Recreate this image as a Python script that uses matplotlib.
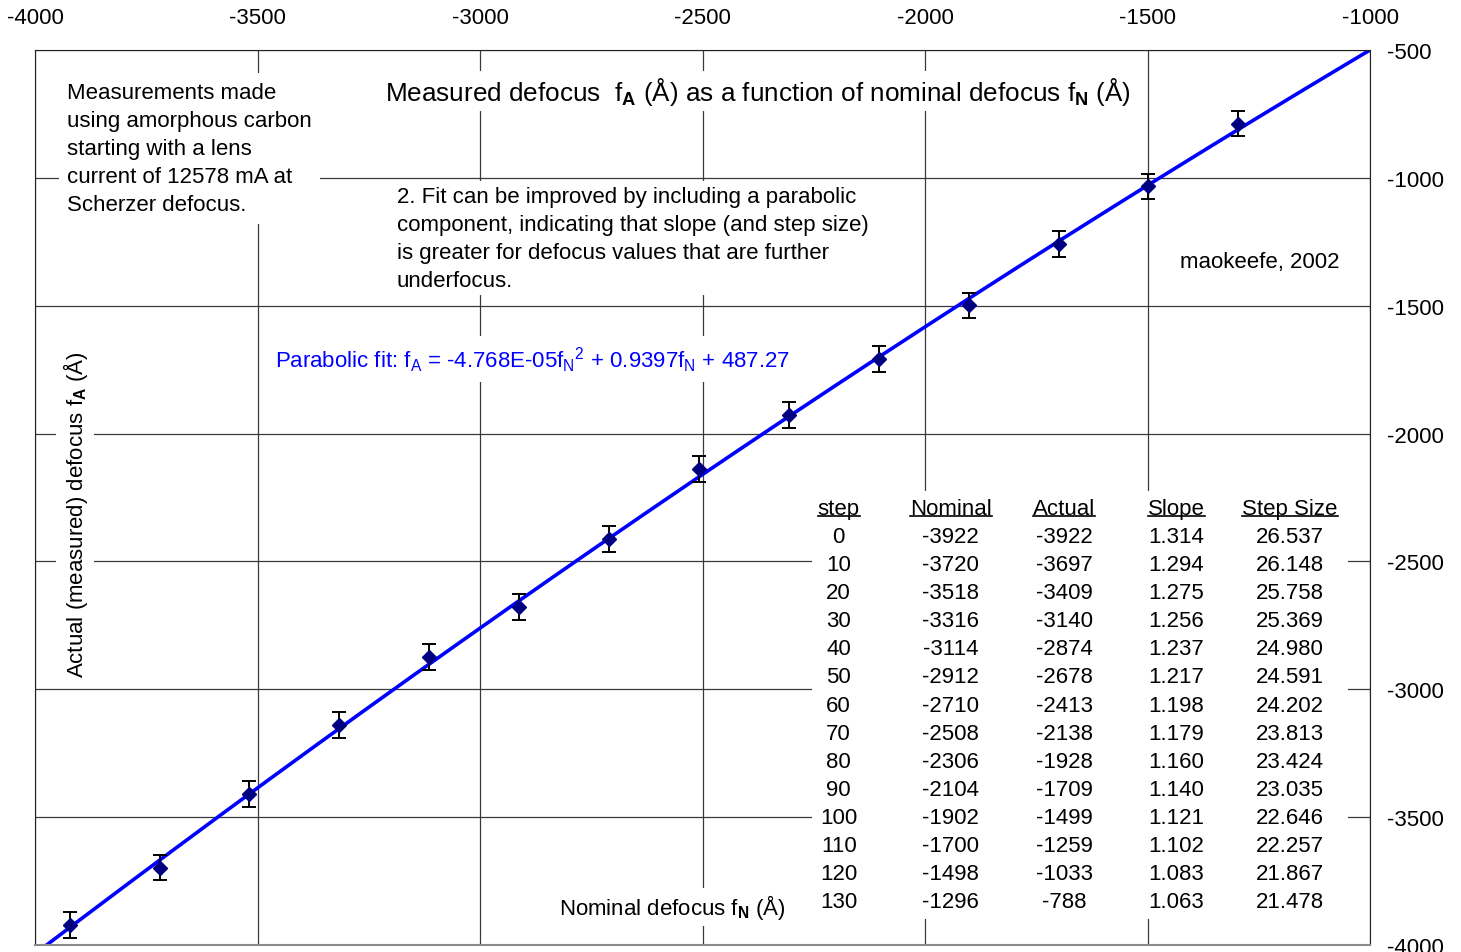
#Imports
import numpy as np
import matplotlib
matplotlib.use("Agg")
import matplotlib.pyplot as plt
from matplotlib.patches import Rectangle
from matplotlib.lines import Line2D

plt.rcParams['font.family'] = ['Liberation Sans', 'DejaVu Sans']
plt.rcParams['mathtext.fontset'] = 'custom'
plt.rcParams['mathtext.rm'] = 'Liberation Sans'
plt.rcParams['mathtext.it'] = 'Liberation Sans:italic'
plt.rcParams['mathtext.bf'] = 'Liberation Sans:bold'
plt.rcParams['axes.unicode_minus'] = False

#Data
steps = [0, 10, 20, 30, 40, 50, 60, 70, 80, 90, 100, 110, 120, 130]
nominal = [-3922, -3720, -3518, -3316, -3114, -2912, -2710, -2508, -2306, -2104, -1902, -1700, -1498, -1296]
actual = [-3922, -3697, -3409, -3140, -2874, -2678, -2413, -2138, -1928, -1709, -1499, -1259, -1033, -788]
slope = ["1.314", "1.294", "1.275", "1.256", "1.237", "1.217", "1.198", "1.179", "1.160", "1.140", "1.121", "1.102", "1.083", "1.063"]
step_size = ["26.537", "26.148", "25.758", "25.369", "24.980", "24.591", "24.202", "23.813", "23.424", "23.035", "22.646", "22.257", "21.867", "21.478"]
error = 50
fit_coeffs = [-4.768e-05, 0.9397, 487.27]
headers = ["step", "Nominal", "Actual", "Slope", "Step Size"]
x_ticks = [-4000, -3500, -3000, -2500, -2000, -1500, -1000]
y_ticks = [-4000, -3500, -3000, -2500, -2000, -1500, -1000, -500]

#Figure
fig = plt.figure(figsize=(14.61, 9.53), dpi=100)
ax = fig.add_axes([35 / 1461, 1 - 946 / 953, 1335 / 1461, 895 / 953])
ax.set_xlim(-4000, -1000)
ax.set_ylim(-4000, -500)
ax.set_xticks(x_ticks)
ax.set_yticks(y_ticks)
ax.xaxis.tick_top()
ax.yaxis.tick_right()
ax.tick_params(axis='x', length=0, pad=15.5, labelsize=16)
ax.tick_params(axis='y', length=0, pad=12, labelsize=16)
ax.set_axisbelow(True)
ax.grid(True, color='#3a3a3a', linewidth=0.9)
for s in ['top', 'right', 'left']:
    ax.spines[s].set_color('#222222')
ax.spines['bottom'].set_color('#8a8a8a')
ax.spines['bottom'].set_linewidth(1.5)

#Fit line and points
xf = np.linspace(-4000, -1000, 200)
ax.plot(xf, np.polyval(fit_coeffs, xf), color='#0000ff', linewidth=2.6, zorder=2)
ax.errorbar(nominal, actual, yerr=error, fmt='D', color='#000080', markersize=7.5,
            ecolor='black', elinewidth=1.4, capsize=5, capthick=1.4, zorder=3)

#Text boxes
box = dict(facecolor='white', edgecolor='none')
ax.text(0.024, 0.9648, "Measurements made\nusing amorphous carbon\nstarting with a lens\ncurrent of 12578 mA at\nScherzer defocus.",
        transform=ax.transAxes, fontsize=16, va='top', ha='left', linespacing=1.45,
        bbox=dict(box, pad=6), zorder=4)
ax.text(0.5416, 0.954, r"Measured defocus  f$_\mathbf{A}$ (Å) as a function of nominal defocus f$_\mathbf{N}$ (Å)",
        transform=ax.transAxes, fontsize=18.8, ha='center', va='center', bbox=dict(box, pad=3), zorder=4)
ax.text(0.271, 0.8485, "2. Fit can be improved by including a parabolic\ncomponent, indicating that slope (and step size)\nis greater for defocus values that are further\nunderfocus.",
        transform=ax.transAxes, fontsize=16, va='top', ha='left', linespacing=1.45,
        bbox=dict(box, pad=3), zorder=4)
ax.text(0.9176, 0.764, "maokeefe, 2002", transform=ax.transAxes, fontsize=16,
        ha='center', va='center', bbox=dict(box, pad=3), zorder=4)
ax.text(0.180, 0.655, r"Parabolic fit: f$_\mathrm{A}$ = -4.768E-05f$_\mathrm{N}$$^{2}$ + 0.9397f$_\mathrm{N}$ + 487.27",
        transform=ax.transAxes, fontsize=16, color='#0000ff', ha='left', va='center',
        bbox=dict(box, pad=6), zorder=4)
ax.text(0.030, 0.482, r"Actual (measured) defocus f$_\mathbf{A}$ (Å)", transform=ax.transAxes,
        fontsize=16, rotation=90, ha='center', va='center', bbox=dict(box, pad=3), zorder=4)
ax.text(0.477, 0.0425, r"Nominal defocus f$_\mathbf{N}$ (Å)", transform=ax.transAxes,
        fontsize=16, ha='center', va='center', bbox=dict(box, pad=3), zorder=4)

#Table
ax.add_patch(Rectangle((0.582, 0.029), 0.4015, 0.478, transform=ax.transAxes,
                       facecolor='white', edgecolor='none', zorder=1))
col_x = [0.602, 0.686, 0.771, 0.855, 0.940]
head_y = 0.4816
row0_y = 0.4503
row_dy = 0.0314
head_texts = []
for cx, h in zip(col_x, headers):
    head_texts.append(ax.text(cx, head_y, h, transform=ax.transAxes, fontsize=16,
                              ha='center', va='baseline', zorder=4))
for i in range(len(steps)):
    y = row0_y - i * row_dy
    row = [str(steps[i]), str(nominal[i]), str(actual[i]), slope[i], step_size[i]]
    for cx, val in zip(col_x, row):
        ax.text(cx, y, val, transform=ax.transAxes, fontsize=16, ha='center', va='baseline', zorder=4)

#Underline headers
fig.canvas.draw()
r = fig.canvas.get_renderer()
inv = fig.transFigure.inverted()
for t in head_texts:
    bb = t.get_window_extent(r)
    base = ax.transAxes.transform((0, head_y))[1] - 2.5
    (x0, y0) = inv.transform((bb.x0, base))
    (x1, _) = inv.transform((bb.x1, base))
    fig.add_artist(Line2D([x0, x1], [y0, y0], color='black', linewidth=1.2))

plt.savefig("out.png", dpi=100)
